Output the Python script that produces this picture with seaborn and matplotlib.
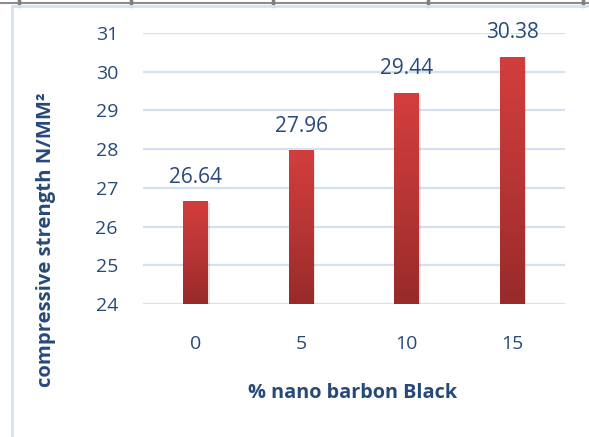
import numpy as np
import pandas as pd
import matplotlib
matplotlib.use("Agg")
import matplotlib.pyplot as plt
from matplotlib.colors import LinearSegmentedColormap
from matplotlib.lines import Line2D
import seaborn as sns

# Compressive strength by nano carbon black content
dosage = ["0", "5", "10", "15"]
strength = [26.64, 27.96, 29.44, 30.38]
y_ticks = [24, 25, 26, 27, 28, 29, 30, 31]

sns.set_theme(style="white")
plt.rcParams["font.family"] = ["Open Sans", "DejaVu Sans"]

text_color = "#27497A"
grid_color = "#D6E0F0"
W, H = 589, 437

fig = plt.figure(figsize=(W / 100, H / 100), dpi=100)
ax = fig.add_axes([143 / W, 1 - 304 / H, 422 / W, 271 / H])

df = pd.DataFrame({"dosage": dosage, "strength": strength})
sns.barplot(data=df, x="dosage", y="strength", ax=ax, color="#C0393A",
            width=0.235, saturation=1, zorder=3)

ymin, ymax = 24, 31
for yv in y_ticks:
    ax.axhline(yv, color=grid_color, lw=1.6, zorder=1)
for s in ax.spines.values():
    s.set_visible(False)

# vertical red gradient on each bar, with a soft drop shadow
cmap = LinearSegmentedColormap.from_list("bar", ["#982A2A", "#B83535", "#D33E3D"])
grad = np.linspace(0, 1, 256).reshape(-1, 1)
for p in list(ax.patches):
    x0, w = p.get_x(), p.get_width()
    top = p.get_y() + p.get_height()
    p.set_visible(False)
    sh = plt.Rectangle((x0 + 0.01, ymin), w + 0.004, top - ymin - 0.02,
                       color="#000000", alpha=0.10, zorder=2, lw=0)
    ax.add_patch(sh)
    ax.imshow(grad, extent=[x0, x0 + w, ymin, top], origin="lower",
              cmap=cmap, aspect="auto", zorder=3.5)

ax.set_xlim(-0.5, 3.5)
ax.set_ylim(ymin, ymax)
ax.set_yticks(y_ticks)
ax.set_xticks(range(len(dosage)))
ax.set_xticklabels(dosage)
ax.set_xlabel("")
ax.set_ylabel("")

for i, v in enumerate(strength):
    ax.text(i, v + 0.49, f"{v:.2f}", ha="center", va="baseline",
            fontsize=15, color=text_color, zorder=5)

ax.tick_params(axis="both", length=0, labelsize=14, labelcolor=text_color)
ax.tick_params(axis="y", pad=18)
ax.tick_params(axis="x", pad=22)

fig.text(353 / W, 1 - 393 / H, "% nano barbon Black", ha="center", va="center",
         fontsize=14.3, fontweight="bold", color=text_color)
fig.text(46 / W, 1 - 240 / H, "compressive strength N/MM\u00b2", ha="center",
         va="center", rotation=90, fontsize=14.6, fontweight="bold", color=text_color)

# surrounding frame lines
fig.add_artist(Line2D([0, 1], [1 - 3 / H, 1 - 3 / H], color="#8C8C8C", lw=1.5))
for xp in [19, 131, 273, 428, 583]:
    fig.add_artist(Line2D([xp / W, xp / W], [1, 1 - 6 / H], color="#7F7F7F", lw=2.5))
fig.add_artist(Line2D([12 / W, 1], [1 - 6 / H, 1 - 6 / H], color=grid_color, lw=2))
fig.add_artist(Line2D([12 / W, 12 / W], [0, 1 - 6 / H], color=grid_color, lw=2))

fig.savefig("out.png", dpi=100, facecolor="white")
